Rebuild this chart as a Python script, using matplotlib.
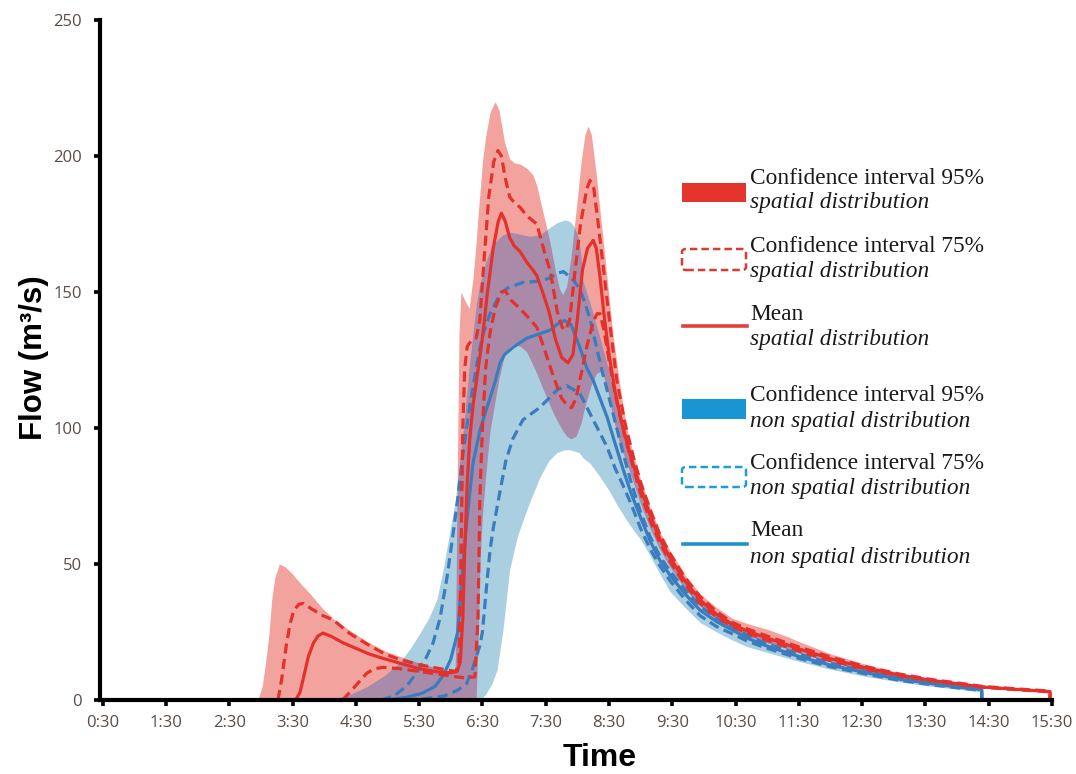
import numpy as np
import matplotlib
matplotlib.use("Agg")
import matplotlib.pyplot as plt
from matplotlib.patches import Rectangle, FancyBboxPatch
from matplotlib.lines import Line2D

# ---------------- data (time in hours, flow in m3/s) ----------------
# Spatial distribution: 95% confidence band
t_sp95 = [2.95, 3.02, 3.08, 3.13, 3.17, 3.22, 3.29, 3.38, 3.49, 3.62, 3.78, 3.96,
          4.14, 4.41, 4.68, 4.96, 5.2, 5.51, 5.83, 6.02, 6.07, 6.10, 6.13, 6.16,
          6.22, 6.29, 6.35, 6.40, 6.43, 6.46, 6.5, 6.55, 6.62, 6.7, 6.76, 6.85,
          6.93, 7.0, 7.1, 7.2, 7.3, 7.36, 7.41, 7.5, 7.57, 7.65, 7.72, 7.77, 7.83,
          7.9, 7.98, 8.06, 8.12, 8.17, 8.22, 8.3, 8.38, 8.47, 8.56, 8.67, 8.78,
          8.9, 9.0, 9.15, 9.3, 9.46, 9.7, 9.94, 10.2, 10.45, 10.7, 11.0, 11.3,
          11.5, 12.0, 12.57, 13.1, 13.6, 14.0, 14.4, 15.0, 15.47]
sp95_hi = [0, 5, 15, 25, 37, 45, 50, 49, 46.5, 43, 39, 34,
           30, 25.5, 21.5, 18, 16, 13.5, 11.5, 10.5, 11, 80, 135, 150,
           147, 144, 155, 168, 178, 186, 198, 207, 216, 220, 217, 205,
           199, 197.5, 197, 195.5, 193, 189, 184, 175, 168, 158, 151, 149, 152,
           163, 180, 198, 208, 211, 208, 193, 175, 155, 135, 116, 100,
           89, 81, 71, 62, 55, 46, 39, 34, 30, 28, 26, 23.5,
           21.5, 17, 13, 10, 7.8, 6.5, 5.2, 4.2, 3.5]
sp95_lo = [0, 0, 0, 0, 0, 0, 0, 0, 0, 0, 0, 0,
           0, 0, 0, 0, 0, 0, 0, 0, 0, 0, 0, 0,
           0, 0, 0, 0, 20, 50, 68, 82, 99, 110, 118, 127,
           130, 131, 130, 128, 123, 120, 117, 112, 108, 104, 101, 99, 97,
           96, 97, 102, 108, 112, 116, 120, 121, 115, 104, 94, 87,
           79, 72, 63, 55.5, 49, 41, 34.5, 29.5, 26, 23.5, 21, 19,
           17.3, 14, 10.8, 8.5, 6.8, 5.6, 4.5, 3.5, 2.9]

# Spatial distribution: 75% interval, upper limit
t_sp75_hi = [3.27, 3.33, 3.4, 3.46, 3.52, 3.6, 3.67, 3.8, 3.98, 4.14, 4.4, 4.68,
             4.95, 5.2, 5.5, 5.72, 5.95, 6.08, 6.13, 6.16, 6.19, 6.22, 6.26, 6.32,
             6.4, 6.46, 6.52, 6.6, 6.68, 6.745, 6.8, 6.86, 6.93, 6.98, 7.1, 7.2,
             7.36, 7.5, 7.57, 7.68, 7.76, 7.82, 7.88, 7.95, 8.05, 8.15, 8.2, 8.26,
             8.33, 8.42, 8.52, 8.62, 8.75, 8.9, 9.0, 9.15, 9.3, 9.46, 9.7, 9.94,
             10.2, 10.45, 10.7, 11.0, 11.5, 12.0, 12.57, 13.1, 13.6, 14.0, 14.4,
             15.0, 15.47, 15.47]
sp75_hi = [0, 8, 20, 28, 33, 35.2, 35.5, 33.5, 31, 29.5, 24.5, 20.5,
           17, 14.8, 13, 12, 11, 10.5, 14, 50, 100, 122, 130, 132,
           133, 140, 160, 185, 198, 202, 200, 192, 185, 183.5, 181, 178,
           175, 163, 158, 143, 137, 136, 140, 155, 175, 188, 191, 188,
           175, 157, 137, 118, 102, 88, 80, 70, 61, 54, 45, 38,
           32.5, 28.5, 26, 23.5, 19.5, 15.8, 12.2, 9.5, 7.5, 6.3, 5.0,
           4.0, 3.3, 0]

# Spatial distribution: 75% interval, lower limit
t_sp75_lo = [4.29, 4.45, 4.6, 4.68, 4.8, 4.93, 5.2, 5.5, 5.8, 6.0, 6.2, 6.38,
             6.43, 6.46, 6.5, 6.55, 6.62, 6.7, 6.8, 6.86, 6.95, 7.09, 7.25, 7.36,
             7.45, 7.55, 7.62, 7.75, 7.85, 7.91, 7.98, 8.08, 8.15, 8.25, 8.31, 8.36,
             8.42, 8.5, 8.6, 8.75, 8.9, 9.0, 9.15, 9.3, 9.46, 9.7, 9.94, 10.2,
             10.45, 10.7, 11.0, 11.5, 12.0, 12.57, 13.1, 13.6, 14.0, 14.4, 15.0,
             15.47, 15.47]
sp75_lo = [0, 4, 8, 10, 11.5, 12, 11.5, 10.5, 9.5, 8.8, 8.2, 8.5,
           30, 75, 100, 122, 135, 144, 150, 150.5, 147, 144, 140, 137,
           131, 124, 119, 111, 108, 107.5, 111, 122, 130, 139, 142, 142,
           136, 125, 112, 97, 84, 76, 66, 58, 51, 42.5, 35.5, 30.5,
           27, 24.5, 22, 18, 14.5, 11.2, 8.8, 7, 5.8, 4.7, 3.7,
           3.0, 0]

# Spatial distribution: mean
t_sp_mean = [3.55, 3.62, 3.68, 3.75, 3.83, 3.9, 3.98, 4.1, 4.3, 4.5, 4.7, 4.9,
             5.2, 5.5, 5.8, 6.0, 6.1, 6.15, 6.19, 6.22, 6.26, 6.3, 6.35, 6.41,
             6.5, 6.58, 6.67, 6.75, 6.8, 6.86, 6.93, 7.0, 7.09, 7.2, 7.3, 7.36,
             7.45, 7.55, 7.65, 7.75, 7.85, 7.93, 8.0, 8.08, 8.16, 8.25, 8.3, 8.36,
             8.42, 8.5, 8.6, 8.7, 8.85, 9.0, 9.15, 9.3, 9.46, 9.7, 9.94, 10.2,
             10.45, 10.7, 11.0, 11.5, 12.0, 12.57, 13.1, 13.6, 14.0, 14.4, 15.0,
             15.47, 15.47]
sp_mean = [0, 3, 9, 16, 21, 23.5, 24.6, 23.5, 21, 19, 17, 15.5,
           13.5, 11.5, 10.3, 10, 10.5, 14, 30, 55, 80, 96, 108, 118,
           133, 150, 166, 176, 179, 176, 170, 167, 165, 161, 158, 156,
           150, 143, 133, 126, 124, 127, 140, 158, 166, 169, 166, 155,
           142, 127, 113, 102, 89, 78, 68, 59.5, 52.5, 43.8, 36.8, 31.5,
           27.8, 25.2, 22.8, 18.8, 15.2, 11.7, 9.1, 7.2, 6.0, 4.8, 3.8,
           3.1, 0]

# Non spatial distribution: 95% confidence band
t_ns95 = [4.1, 4.4, 4.68, 4.95, 5.2, 5.36, 5.51, 5.65, 5.78, 5.88, 5.94, 6.0,
          6.07, 6.2, 6.3, 6.4, 6.45, 6.55, 6.65, 6.73, 6.82, 6.93, 7.05, 7.14,
          7.25, 7.41, 7.55, 7.68, 7.8, 7.88, 7.95, 8.02, 8.06, 8.09, 8.2, 8.36,
          8.5, 8.62, 8.78, 8.9, 9.0, 9.15, 9.3, 9.46, 9.7, 9.94, 10.2, 10.45,
          10.7, 11.0, 11.5, 12.0, 12.57, 13.1, 13.6, 14.0, 14.39]
ns95_hi = [0, 2, 5, 9, 14, 19, 24.5, 30, 37, 48, 56, 64,
           73, 100, 125, 145, 152, 161, 167, 169, 171, 172, 171.5, 171,
           170.5, 171, 173.5, 175.5, 176.5, 176, 174, 170, 163, 154, 146, 133,
           121, 108, 95, 85, 77, 67, 58.5, 51.5, 43.5, 37, 32, 28.5,
           25.5, 22.3, 18.2, 14.6, 11.3, 8.6, 6.7, 5.4, 4.3]
ns95_lo = [0, 0, 0, 0, 0, 0, 0, 0, 0, 0, 0, 0,
           0, 0, 0, 0, 0, 2, 6, 11, 25, 48, 60, 66,
           73, 82, 88, 91, 92, 92, 91.5, 91, 90, 89, 87, 82,
           77, 72, 66, 62, 59, 53, 46.5, 40, 34, 28.5, 25, 22,
           19.5, 17.5, 14.2, 11.3, 8.6, 6.6, 5, 4, 3]

# Non spatial distribution: 75% interval, upper limit
t_ns75_hi = [4.9, 5.1, 5.3, 5.46, 5.6, 5.72, 5.83, 5.94, 6.03, 6.11, 6.2, 6.3,
             6.4, 6.5, 6.62, 6.75, 6.82, 6.9, 7.14, 7.41, 7.55, 7.7, 7.78, 7.86,
             7.95, 8.04, 8.12, 8.2, 8.3, 8.4, 8.47, 8.6, 8.72, 8.85, 9.0, 9.15,
             9.3, 9.46, 9.7, 9.94, 10.2, 10.45, 10.7, 11.0, 11.5, 12.0, 12.57,
             13.1, 13.6, 14.0, 14.39, 14.39]
ns75_hi = [0, 1.5, 5, 10, 15, 21, 30, 45, 60, 74, 92, 108,
           122, 134, 142, 148, 150, 151.5, 153.5, 154, 155, 157, 157.5, 156,
           154, 151, 146, 140, 130, 120, 114, 102, 91, 80, 69, 60,
           53, 47.5, 40.5, 34.5, 30, 26.8, 23.6, 20.6, 16.8, 13.5, 10.5,
           8, 6.3, 5.1, 4.0, 0]

# Non spatial distribution: 75% interval, lower limit
t_ns75_lo = [5.3, 5.6, 5.9, 6.1, 6.25, 6.35, 6.46, 6.5, 6.57, 6.62, 6.67, 6.78,
             6.87, 6.98, 7.14, 7.41, 7.68, 7.83, 8.04, 8.25, 8.47, 8.6, 8.72,
             8.85, 9.0, 9.15, 9.3, 9.46, 9.7, 9.94, 10.2, 10.45, 10.7, 11.0,
             11.5, 12.0, 12.57, 13.1, 13.6, 14.0, 14.39, 14.39]
ns75_lo = [0, 0.5, 1.5, 3.5, 6, 12, 20, 25, 43, 55, 63, 77,
           88, 96, 103, 107.6, 114, 115.6, 112.7, 103, 93, 85, 79,
           72, 63, 55.5, 49.5, 44, 37, 31, 27, 24.3, 21.5, 19.0,
           15.3, 12.2, 9.5, 7.2, 5.6, 4.5, 3.5, 0]

# Non spatial distribution: mean
t_ns_mean = [5.0, 5.3, 5.55, 5.75, 5.88, 6.0, 6.11, 6.19, 6.25, 6.35, 6.46, 6.55,
             6.62, 6.7, 6.78, 6.85, 6.98, 7.2, 7.41, 7.57, 7.7, 7.8, 7.9, 8.04,
             8.15, 8.25, 8.47, 8.6, 8.72, 8.85, 9.0, 9.15, 9.3, 9.46, 9.7, 9.94,
             10.2, 10.45, 10.7, 11.0, 11.5, 12.0, 12.57, 13.1, 13.6, 14.0, 14.39,
             14.39]
ns_mean = [0, 1, 2.5, 5, 9, 15, 25, 49, 65, 87, 99, 106,
           111, 117, 124, 127, 129.6, 133, 134.7, 136, 138.5, 139.5, 138, 129.6,
           122, 117.5, 104, 94, 85, 76, 67, 58.5, 51.5, 46, 39, 33,
           28.8, 25.7, 22.6, 19.8, 16.0, 12.8, 10.0, 7.6, 6.0, 4.8, 3.8,
           0]

# axis ticks
x_ticks = [0.5 + i for i in range(16)]
x_tick_labels = [f"{int(t)}:30" for t in x_ticks]
y_ticks = [0, 50, 100, 150, 200, 250]

# legend entries: (title, subtitle)
legend_titles = ["Confidence interval 95%", "Confidence interval 75%", "Mean",
                 "Confidence interval 95%", "Confidence interval 75%", "Mean"]
legend_subtitles = ["spatial distribution", "spatial distribution",
                    "spatial distribution", "non spatial distribution",
                    "non spatial distribution", "non spatial distribution"]

# ---------------- styling ----------------
RED_LINE = "#e5312b"
BLUE_LINE = "#3a7dbf"
RED_FILL = "#f3a39e"
BLUE_FILL = "#aacfe1"
OVERLAP_FILL = "#aa8aa9"
TICK_COLOR = "#5a4c46"

W, H = 1076, 774
fig = plt.figure(figsize=(W / 100, H / 100), dpi=100, facecolor="white")
ax = fig.add_axes([100 / W, (H - 700) / H, 952 / W, 680 / H])

# bands
ax.fill_between(t_sp95, sp95_lo, sp95_hi, color=RED_FILL, lw=0, zorder=1)
ax.fill_between(t_ns95, ns95_lo, ns95_hi, color=BLUE_FILL, lw=0, zorder=2)

# region covered by both bands
tg = np.linspace(min(t_ns95[0], t_sp95[0]), max(t_ns95[-1], t_sp95[-1]), 4000)
in_sp = (tg >= t_sp95[0]) & (tg <= t_sp95[-1])
in_ns = (tg >= t_ns95[0]) & (tg <= t_ns95[-1])
top = np.minimum(np.interp(tg, t_sp95, sp95_hi), np.interp(tg, t_ns95, ns95_hi))
bot = np.maximum(np.interp(tg, t_sp95, sp95_lo), np.interp(tg, t_ns95, ns95_lo))
mask = in_sp & in_ns & (top > bot)
ax.fill_between(tg, bot, top, where=mask, color=OVERLAP_FILL, lw=0, zorder=3)

# lines
lw = 2.3
dash = (3.2, 1.7)
ax.plot(t_ns75_hi, ns75_hi, color=BLUE_LINE, lw=lw, dashes=dash, zorder=4)
ax.plot(t_ns75_lo, ns75_lo, color=BLUE_LINE, lw=lw, dashes=dash, zorder=4)
ax.plot(t_ns_mean, ns_mean, color=BLUE_LINE, lw=lw, zorder=4)
ax.plot(t_sp75_hi, sp75_hi, color=RED_LINE, lw=lw, dashes=dash, zorder=5)
ax.plot(t_sp75_lo, sp75_lo, color=RED_LINE, lw=lw, dashes=dash, zorder=5)
ax.plot(t_sp_mean, sp_mean, color=RED_LINE, lw=lw, zorder=5)

# axes
ax.set_xlim(0.457, 15.5)
ax.set_ylim(0, 250)
for side in ("top", "right"):
    ax.spines[side].set_visible(False)
for side in ("left", "bottom"):
    ax.spines[side].set_linewidth(3.0)
    ax.spines[side].set_color("black")
    ax.spines[side].set_zorder(10)
ax.set_xticks(x_ticks)
ax.set_xticklabels(x_tick_labels)
ax.set_yticks(y_ticks)
ax.set_yticklabels([str(v) for v in y_ticks])
ax.tick_params(axis="both", direction="out", length=4, width=2.6, color="black",
               labelcolor=TICK_COLOR, labelsize=12)
ax.tick_params(axis="x", pad=7)
ax.tick_params(axis="y", pad=9)
for lab in ax.get_xticklabels() + ax.get_yticklabels():
    lab.set_family("Open Sans")
ax.set_facecolor("white")

# axis titles
fig.text(34 / W, 1 - 358 / H, "Flow (m³/s)", rotation=90, ha="center", va="center",
         fontsize=22.5, fontweight="bold", family="Liberation Sans")
fig.text(600 / W, 1 - 758 / H, "Time", ha="center", va="center",
         fontsize=23, fontweight="bold", family="Liberation Sans")


# legend
def fx(px):
    return px / W


def fy(py):
    return 1 - py / H


tr = fig.transFigure
# filled swatches
fig.add_artist(Rectangle((fx(682), fy(202)), fx(746) - fx(682), fy(183) - fy(202),
                         transform=tr, color="#e5342c", lw=0))
fig.add_artist(Rectangle((fx(682), fy(419)), fx(746) - fx(682), fy(399) - fy(419),
                         transform=tr, color="#1895d2", lw=0))
# dashed outline swatches
for (y0, y1, col) in [(249, 270, "#d93a32"), (467, 487, "#1c9dd5")]:
    fig.add_artist(FancyBboxPatch((fx(682), fy(y1)), fx(746) - fx(682), fy(y0) - fy(y1),
                                  boxstyle="round,pad=0,rounding_size=0.004",
                                  transform=tr, fill=False, edgecolor=col,
                                  lw=1.8, linestyle=(0, (3.0, 1.6))))
# line swatches
fig.add_artist(Line2D([fx(683), fx(747)], [fy(326), fy(326)], transform=tr,
                      color="#e2403a", lw=2.6))
fig.add_artist(Line2D([fx(683), fx(747)], [fy(544), fy(544)], transform=tr,
                      color="#1d94cf", lw=2.6))

title_base = [184, 252, 320, 401, 469, 536]
sub_base = [208, 277, 345, 427, 494, 563]
for title, sub, yb1, yb2 in zip(legend_titles, legend_subtitles, title_base, sub_base):
    fig.text(fx(750), fy(yb1), title, ha="left", va="baseline", fontsize=16.8,
             family="Liberation Serif", color="#1a1a1a")
    fig.text(fx(750), fy(yb2), sub, ha="left", va="baseline", fontsize=16.8,
             family="Liberation Serif", style="italic", color="#1a1a1a")

fig.savefig("out.png", dpi=100, facecolor="white")
